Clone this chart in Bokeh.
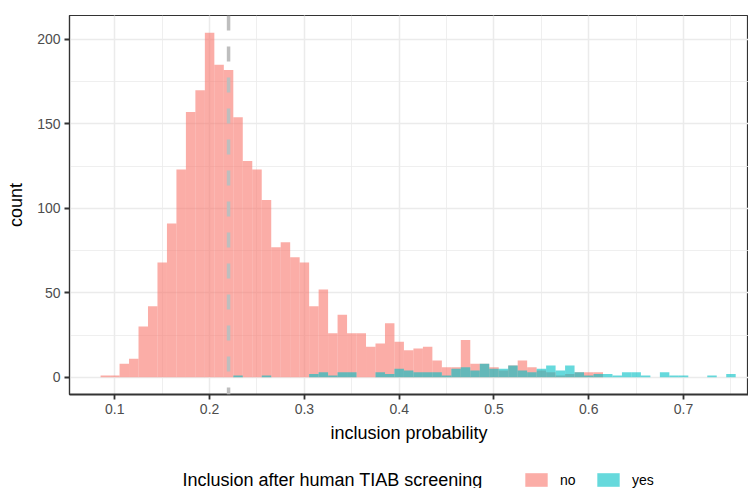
from bokeh.plotting import figure
from bokeh.layouts import column
from bokeh.models import (Span, Legend, LegendItem, SingleIntervalTicker,
                          Range1d, Label)
from bokeh.embed import file_html
from bokeh.resources import INLINE

# ---------------- data ----------------
bin_centers = [0.09, 0.10, 0.11, 0.12, 0.13, 0.14, 0.15, 0.16, 0.17, 0.18,
               0.19, 0.20, 0.21, 0.22, 0.23, 0.24, 0.25, 0.26, 0.27, 0.28,
               0.29, 0.30, 0.31, 0.32, 0.33, 0.34, 0.35, 0.36, 0.37, 0.38,
               0.39, 0.40, 0.41, 0.42, 0.43, 0.44, 0.45, 0.46, 0.47, 0.48,
               0.49, 0.50, 0.51, 0.52, 0.53, 0.54, 0.55, 0.56, 0.57, 0.58,
               0.59, 0.60, 0.61, 0.62, 0.63, 0.64, 0.65, 0.66, 0.67, 0.68,
               0.69, 0.70, 0.71, 0.72, 0.73, 0.74, 0.75]
bin_width = 0.01

count_no = [1, 1, 8, 11, 30, 42, 68, 91, 123, 157,
            170, 204, 185, 182, 154, 128, 123, 105, 77, 80,
            71, 68, 42, 52, 26, 37, 26, 26, 18, 20,
            32, 21, 16, 17, 18, 10, 6, 6, 22, 8,
            8, 6, 4, 7, 10, 6, 4, 3, 1, 2,
            3, 3, 3, 0, 0, 0, 0, 0, 0, 0,
            0, 0, 0, 0, 0, 0, 0]

count_yes = [0, 0, 0, 0, 0, 0, 0, 0, 0, 0,
             0, 0, 0, 0, 1, 0, 0, 1, 0, 0,
             0, 0, 2, 3, 1, 3, 3, 0, 0, 3,
             2, 5, 4, 3, 3, 3, 1, 5, 6, 4,
             8, 5, 5, 7, 4, 3, 5, 7, 4, 7,
             3, 1, 2, 2, 1, 3, 3, 1, 0, 3,
             1, 1, 0, 0, 1, 0, 2]

threshold = 0.22
group_labels = ["no", "yes"]
group_colors = ["#F8766D", "#00BFC4"]
legend_title = "Inclusion after human TIAB screening"

FONT = "Liberation Sans"
W = 748

p = figure(width=W, height=446, output_backend="svg", toolbar_location=None,
           x_range=Range1d(0.0522, 0.7685), y_range=Range1d(-10.2, 214.2),
           min_border_left=69, min_border_right=0, min_border_top=15,
           min_border_bottom=52)

p.background_fill_color = "white"
p.border_fill_color = "white"
p.outline_line_color = "#333333"
p.outline_line_width = 1.2

def nz(xs, ys):
    pairs = [(a, b) for a, b in zip(xs, ys) if b > 0]
    return [a for a, _ in pairs], [b for _, b in pairs]

x_no, y_no = nz(bin_centers, count_no)
x_yes, y_yes = nz(bin_centers, count_yes)

r_no = p.vbar(x=x_no, top=y_no, bottom=0, width=bin_width,
              fill_color=group_colors[0], fill_alpha=0.6, line_color=None)
r_yes = p.vbar(x=x_yes, top=y_yes, bottom=0, width=bin_width,
               fill_color=group_colors[1], fill_alpha=0.6, line_color=None)

p.add_layout(Span(location=threshold, dimension="height", line_color="#BEBEBE",
                  line_width=3.5, line_dash="15 16"))

# axes
p.xaxis.ticker = SingleIntervalTicker(interval=0.1, num_minor_ticks=2)
p.yaxis.ticker = SingleIntervalTicker(interval=50, num_minor_ticks=2)
p.xaxis.axis_label = "inclusion probability"
p.yaxis.axis_label = "count"
for ax in (p.xaxis[0], p.yaxis[0]):
    ax.axis_label_text_font = FONT
    ax.axis_label_text_font_size = "18px"
    ax.axis_label_text_font_style = "normal"
    ax.axis_label_text_color = "black"
    ax.major_label_text_font = FONT
    ax.major_label_text_font_size = "14px"
    ax.major_label_text_color = "#4D4D4D"
    ax.major_tick_line_color = "#333333"
    ax.major_tick_line_width = 1.8
    ax.major_tick_in = 0
    ax.major_tick_out = 5
    ax.minor_tick_line_color = None
    ax.axis_line_color = "#333333"
    ax.major_label_standoff = 4
p.xaxis.axis_line_width = 1.8
p.yaxis.axis_line_width = 1.2
p.xaxis.axis_label_standoff = 6
p.yaxis.axis_label_standoff = 8

# grid
for g in (p.xgrid[0], p.ygrid[0]):
    g.grid_line_color = "#EBEBEB"
    g.grid_line_width = 1.5
    g.minor_grid_line_color = "#EBEBEB"
    g.minor_grid_line_width = 0.8

# legend strip (its frame is aligned with the main frame by the column)
q = figure(width=W, height=42, output_backend="svg", toolbar_location=None,
           x_range=Range1d(0, 1), y_range=Range1d(0, 1),
           x_axis_location=None, y_axis_location=None,
           min_border=0, min_border_left=0, min_border_right=0,
           min_border_top=0, min_border_bottom=0)
q.outline_line_color = None
q.background_fill_color = "white"
q.border_fill_color = "white"
q.xgrid.grid_line_color = None
q.ygrid.grid_line_color = None

# off-range dummies so the legend keys get their colours
k_no = q.vbar(x=[5], top=[1], width=0.1, fill_color=group_colors[0],
              fill_alpha=0.6, line_color=None)
k_yes = q.vbar(x=[5], top=[1], width=0.1, fill_color=group_colors[1],
               fill_alpha=0.6, line_color=None)

legend = Legend(items=[LegendItem(label=group_labels[0], renderers=[k_no]),
                       LegendItem(label=group_labels[1], renderers=[k_yes])],
                orientation="horizontal", location=(453, 0),
                label_text_font=FONT, label_text_font_size="14px",
                label_text_color="black",
                glyph_width=28, glyph_height=17, label_standoff=10, spacing=14,
                padding=0, margin=0, border_line_color=None,
                background_fill_alpha=0)
q.add_layout(legend, "center")

q.add_layout(Label(x=113, y=9, x_units="screen", y_units="screen",
                   text=legend_title, text_font=FONT, text_font_size="18px",
                   text_color="black", text_baseline="alphabetic",
                   text_align="left"))

layout = column(p, q, spacing=0)
open("out.html", "w").write(file_html(layout, INLINE))
